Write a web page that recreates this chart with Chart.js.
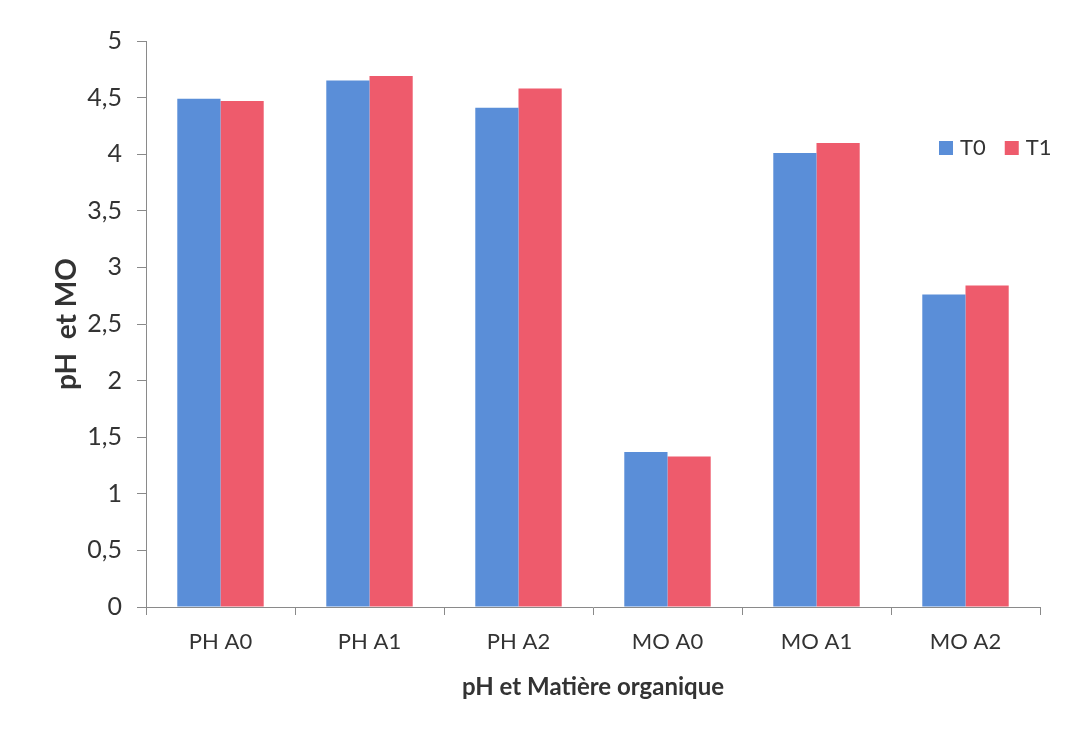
<!DOCTYPE html>
<html>
<head>
<meta charset="utf-8">
<script src="https://cdn.jsdelivr.net/npm/chart.js@4"></script>
<style>
  html, body { margin: 0; padding: 0; background: #ffffff; }
  #wrap { width: 1071px; height: 730px; }
</style>
</head>
<body>
<div id="wrap"><canvas id="c" width="1071" height="730"></canvas></div>
<script>
// Categories and measured values (pH and organic matter) at T0 and T1
const categories = ['PH A0', 'PH A1', 'PH A2', 'MO A0', 'MO A1', 'MO A2'];
const seriesT0 = [4.49, 4.65, 4.41, 1.37, 4.01, 2.76];
const seriesT1 = [4.47, 4.69, 4.58, 1.33, 4.10, 2.84];
const seriesNames = ['T0', 'T1'];
const yTicks = [0, 0.5, 1, 1.5, 2, 2.5, 3, 3.5, 4, 4.5, 5];

const FONT = 'Lato, "Open Sans", sans-serif';
const TEXT = '#333333';
const AXIS = '#8a8a8a';
const COLORS = ['#5a8ed8', '#ee5b6c'];

// Legend drawn inside the plot area, top right
const insideLegend = {
  id: 'insideLegend',
  afterDraw(chart) {
    const ctx = chart.ctx;
    ctx.save();
    ctx.font = '22px ' + FONT;
    ctx.textBaseline = 'middle';
    let x = 939;
    const y = 148;
    chart.data.datasets.forEach(ds => {
      ctx.fillStyle = ds.backgroundColor;
      ctx.fillRect(x, y - 7, 14, 14);
      ctx.fillStyle = TEXT;
      ctx.fillText(ds.label, x + 21, y);
      x += 21 + ctx.measureText(ds.label).width + 19;
    });
    ctx.restore();
  }
};

new Chart(document.getElementById('c'), {
  type: 'bar',
  data: {
    labels: categories,
    datasets: [
      { label: seriesNames[0], data: seriesT0, backgroundColor: COLORS[0] },
      { label: seriesNames[1], data: seriesT1, backgroundColor: COLORS[1] }
    ]
  },
  options: {
    responsive: false,
    animation: false,
    devicePixelRatio: 1,
    layout: { padding: { left: 50, right: 31, top: 41, bottom: 28 } },
    plugins: {
      legend: { display: false },
      tooltip: { enabled: false }
    },
    datasets: {
      bar: { categoryPercentage: 0.58, barPercentage: 1.0 }
    },
    scales: {
      x: {
        offset: true,
        grid: {
          display: true,
          offset: true,
          drawOnChartArea: false,
          drawTicks: true,
          tickLength: 8,
          color: AXIS
        },
        border: { display: true, color: AXIS, width: 1 },
        ticks: {
          color: TEXT,
          font: { family: FONT, size: 22 },
          padding: 14,
          maxRotation: 0
        },
        title: {
          display: true,
          text: 'pH et Matière organique',
          color: TEXT,
          font: { family: FONT, size: 24, weight: 'bold' },
          padding: { top: 0, bottom: 0 }
        },
        afterFit(scale) { scale.height = 95; }
      },
      y: {
        min: 0,
        max: 5,
        afterBuildTicks(scale) { scale.ticks = yTicks.map(v => ({ value: v })); },
        grid: {
          display: true,
          drawOnChartArea: false,
          drawTicks: true,
          tickLength: 9,
          color: AXIS
        },
        border: { display: true, color: AXIS, width: 1 },
        ticks: {
          color: TEXT,
          font: { family: FONT, size: 25 },
          padding: 15,
          callback: v => String(v).replace('.', ',')
        },
        title: {
          display: true,
          text: 'pH  et MO',
          color: TEXT,
          font: { family: FONT, size: 28, weight: 'bold' },
          padding: { top: 0, bottom: 0 }
        },
        afterFit(scale) { scale.width = 96; }
      }
    }
  },
  plugins: [insideLegend]
});
</script>
</body>
</html>
